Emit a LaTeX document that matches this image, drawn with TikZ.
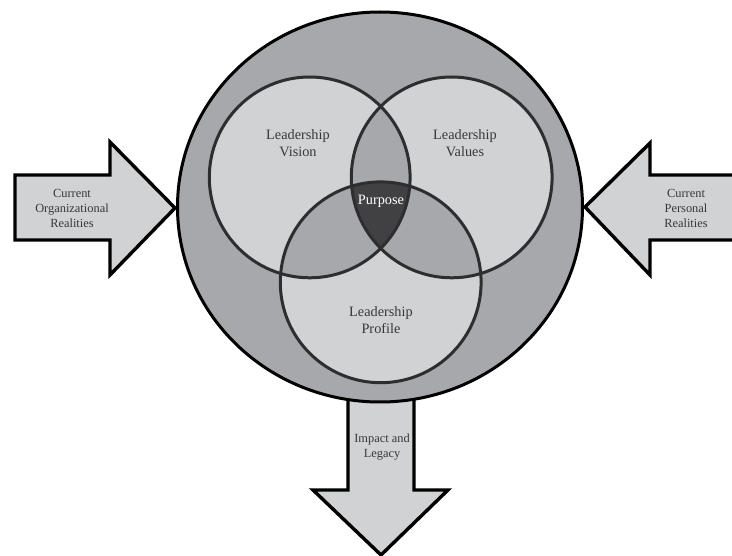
\documentclass[tikz,border=0pt]{standalone}
\usepackage{fontspec}
\setmainfont{Liberation Serif}
\definecolor{bgmid}{HTML}{A7A8AB}
\definecolor{lightg}{HTML}{D1D2D4}
\definecolor{darkg}{HTML}{414042}
\definecolor{txt}{HTML}{38383A}
\definecolor{ring}{HTML}{2E2E30}
\tikzset{
  arrowshape/.style={fill=lightg, draw=black, line width=3.4pt, line join=miter},
  vennline/.style={draw=ring, line width=3pt},
  biglabel/.style={font=\fontsize{14.3}{17}\selectfont, text=txt, align=center, inner sep=0pt},
  smalllabel/.style={font=\fontsize{12.4}{15}\selectfont, text=txt, align=center, inner sep=0pt},
}
\begin{document}
\begin{tikzpicture}[x=1pt,y=-1pt]
\useasboundingbox (0,0) rectangle (732,556);
% arrows
\draw[arrowshape] (15,175) -- (110,175) -- (110,142) -- (175,208) -- (110,275) -- (110,240) -- (15,240) -- cycle;
\draw[arrowshape] (745,175) -- (650,175) -- (650,143) -- (585,207) -- (650,275) -- (650,240) -- (745,240) -- cycle;
\draw[arrowshape] (348,395) -- (348,490) -- (313,490) -- (381,555) -- (448,490) -- (414,490) -- (414,395) -- cycle;
% big circle
\fill[bgmid] (380,207) ellipse [x radius=202.5, y radius=195];
% venn
\coordinate (cv) at (309.7,177.4);
\coordinate (cw) at (451.7,177.4);
\coordinate (cp) at (380.7,282.3);
\def\rr{100.4}
\fill[lightg] (cv) circle (\rr);
\fill[lightg] (cw) circle (\rr);
\fill[lightg] (cp) circle (\rr);
\begin{scope}
  \clip (cv) circle (\rr);
  \fill[bgmid] (cw) circle (\rr);
  \fill[bgmid] (cp) circle (\rr);
\end{scope}
\begin{scope}
  \clip (cw) circle (\rr);
  \fill[bgmid] (cp) circle (\rr);
\end{scope}
\begin{scope}
  \clip (cv) circle (\rr);
  \clip (cw) circle (\rr);
  \fill[darkg] (cp) circle (\rr);
\end{scope}
\draw[vennline] (cv) circle (\rr);
\draw[vennline] (cw) circle (\rr);
\draw[vennline] (cp) circle (\rr);
\draw[black, line width=3pt] (380,207) ellipse [x radius=202.5, y radius=195];
% labels
\node[biglabel] (vision) at (298,143) {Leadership\\Vision};
\node[biglabel] (values) at (465,143) {Leadership\\Values};
\node[biglabel] (profile) at (381,320) {Leadership\\Profile};
\node[biglabel, text=white] (purpose) at (381,201) {Purpose};
\node[smalllabel] (org) at (72,208) {Current\\Organizational\\Realities};
\node[smalllabel] (pers) at (686,208) {Current\\Personal\\Realities};
\node[smalllabel] (impact) at (382,447) {Impact and\\Legacy};
\end{tikzpicture}
\end{document}
